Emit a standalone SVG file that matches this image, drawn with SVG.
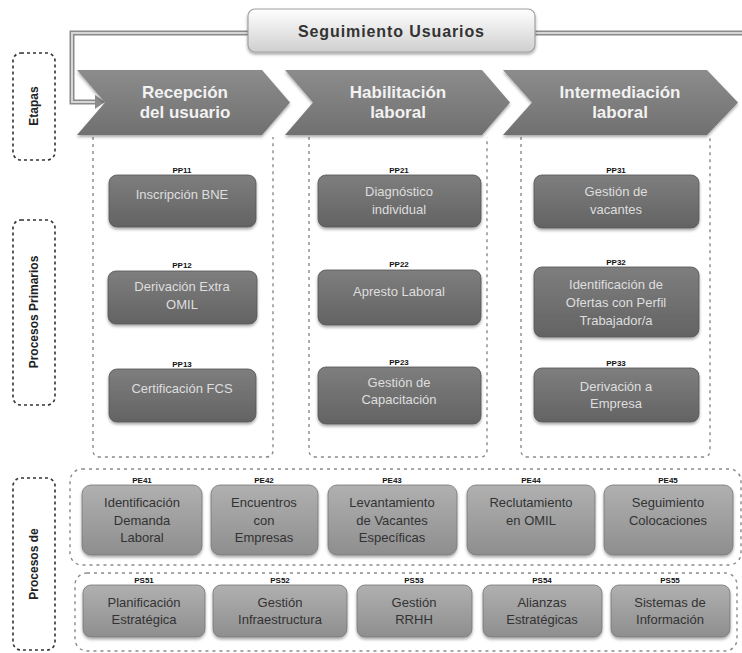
<svg xmlns="http://www.w3.org/2000/svg" width="742" height="653" viewBox="0 0 742 653">
<defs>
<linearGradient id="gChev" x1="0" y1="0" x2="0" y2="1"><stop offset="0" stop-color="#8c8c8c"/><stop offset="1" stop-color="#707070"/></linearGradient>
<linearGradient id="gTop" x1="0" y1="0" x2="0" y2="1"><stop offset="0" stop-color="#ffffff"/><stop offset="1" stop-color="#cfcfcf"/></linearGradient>
<linearGradient id="gPP" x1="0" y1="0" x2="0" y2="1"><stop offset="0" stop-color="#7e7e7e"/><stop offset="1" stop-color="#636363"/></linearGradient>
<linearGradient id="gPE" x1="0" y1="0" x2="0" y2="1"><stop offset="0" stop-color="#b0b0b0"/><stop offset="1" stop-color="#8e8e8e"/></linearGradient>
<filter id="sh" x="-10%" y="-10%" width="120%" height="130%"><feDropShadow dx="0" dy="2" stdDeviation="1.5" flood-color="#000" flood-opacity="0.35"/></filter>
</defs>
<style>
text{font-family:"Liberation Sans","DejaVu Sans",sans-serif;text-anchor:middle}
.lab{fill:none;stroke:#333;stroke-width:1.6;stroke-dasharray:3 3}
.ltx{font-size:12px;font-weight:bold;fill:#222}
.col{fill:none;stroke:#8a8a8a;stroke-width:1.4;stroke-dasharray:3 4}
.chev{fill:url(#gChev);filter:url(#sh)}
.ctx{font-size:17px;font-weight:bold;fill:#f2f2f2}
.pp{fill:url(#gPP);stroke:#555;stroke-width:0.8;filter:url(#sh)}
.ptx{font-size:13px;fill:#dedede}
.pe{fill:url(#gPE);stroke:#777;stroke-width:0.8;filter:url(#sh)}
.etx{font-size:13px;fill:#333}
.code{font-size:8px;font-weight:bold;fill:#111}
.con{fill:none;stroke:#8a8a8a;stroke-width:5}
.coni{fill:none;stroke:#d6d6d6;stroke-width:2}
</style>
<rect width="742" height="653" fill="#ffffff"/>

<g id="connectors">
<path class="con" d="M248,33 H72 V102 H96"/>
<path class="con" d="M535,33 H742"/>
<path class="coni" d="M248,33 H72 V102 H96"/>
<path class="coni" d="M535,33 H742"/>
<polygon points="95,95 105,102 95,109" fill="#8a8a8a"/>
</g>

<g id="seguimiento">
<rect x="248" y="9" width="287" height="43" rx="7" fill="url(#gTop)" stroke="#a0a0a0" stroke-width="1.2" filter="url(#sh)"/>
<text x="391" y="37" font-size="16" font-weight="bold" fill="#333" textLength="186" lengthAdjust="spacing">Seguimiento Usuarios</text>
</g>

<g id="label-etapas">
<rect class="lab" x="13" y="53" width="42" height="107" rx="8"/>
<text class="ltx" transform="translate(38,106) rotate(-90)">Etapas</text>
</g>
<g id="label-primarios">
<rect class="lab" x="13" y="220" width="42" height="185" rx="8"/>
<text class="ltx" transform="translate(38,312) rotate(-90)">Procesos Primarios</text>
</g>
<g id="label-de">
<rect class="lab" x="13" y="478" width="42" height="172" rx="8"/>
<text class="ltx" transform="translate(38,564) rotate(-90)">Procesos de</text>
</g>

<g id="columns">
<path class="col" d="M93,137 V450 Q93,457 100,457 H266 Q273,457 273,450 V137"/>
<path class="col" d="M309,137 V450 Q309,457 316,457 H480 Q487,457 487,450 V137"/>
<path class="col" d="M521,137 V450 Q521,457 528,457 H703 Q710,457 710,450 V137"/>
<rect class="col" x="70" y="469" width="671" height="96" rx="12"/>
<rect class="col" x="75" y="573" width="662" height="78" rx="12"/>
</g>

<g id="stage1">
<path class="chev" d="M77,70 L262,70 L290,102.5 L262,135 L77,135 L105,102.5 Z"/>
<text class="ctx" x="185" y="98">Recepción</text>
<text class="ctx" x="185" y="118">del usuario</text>
</g>
<g id="stage2">
<path class="chev" d="M285,70 L482,70 L510,102.5 L482,135 L285,135 L313,102.5 Z"/>
<text class="ctx" x="398" y="98">Habilitación</text>
<text class="ctx" x="398" y="118">laboral</text>
</g>
<g id="stage3">
<path class="chev" d="M503,70 L707,70 L738,102.5 L707,135 L503,135 L532,102.5 Z"/>
<text class="ctx" x="620" y="98">Intermediación</text>
<text class="ctx" x="620" y="118">laboral</text>
</g>

<g id="PP11"><rect class="pp" x="109" y="175" width="147" height="52" rx="8"/><text class="code" x="182" y="173">PP11</text><text class="ptx" x="182" y="199">Inscripción BNE</text></g>
<g id="PP12"><rect class="pp" x="108" y="271" width="149" height="53" rx="8"/><text class="code" x="182" y="268">PP12</text><text class="ptx" x="182" y="291">Derivación Extra</text><text class="ptx" x="182" y="309">OMIL</text></g>
<g id="PP13"><rect class="pp" x="109" y="369" width="147" height="53" rx="8"/><text class="code" x="182" y="367">PP13</text><text class="ptx" x="182" y="393">Certificación FCS</text></g>

<g id="PP21"><rect class="pp" x="318" y="175" width="163" height="52" rx="8"/><text class="code" x="399" y="173">PP21</text><text class="ptx" x="399" y="196">Diagnóstico</text><text class="ptx" x="399" y="214">individual</text></g>
<g id="PP22"><rect class="pp" x="318" y="270" width="163" height="55" rx="8"/><text class="code" x="399" y="267">PP22</text><text class="ptx" x="399" y="296">Apresto Laboral</text></g>
<g id="PP23"><rect class="pp" x="318" y="367" width="163" height="57" rx="8"/><text class="code" x="399" y="365">PP23</text><text class="ptx" x="399" y="387">Gestión de</text><text class="ptx" x="399" y="404">Capacitación</text></g>

<g id="PP31"><rect class="pp" x="534" y="175" width="165" height="53" rx="8"/><text class="code" x="616" y="173">PP31</text><text class="ptx" x="616" y="196">Gestión de</text><text class="ptx" x="616" y="214">vacantes</text></g>
<g id="PP32"><rect class="pp" x="534" y="267" width="165" height="70" rx="8"/><text class="code" x="616" y="265">PP32</text><text class="ptx" x="616" y="289">Identificación de</text><text class="ptx" x="616" y="307">Ofertas con Perfil</text><text class="ptx" x="616" y="325">Trabajador/a</text></g>
<g id="PP33"><rect class="pp" x="534" y="368" width="165" height="54" rx="8"/><text class="code" x="616" y="366">PP33</text><text class="ptx" x="616" y="391">Derivación a</text><text class="ptx" x="616" y="408">Empresa</text></g>

<g id="PE41"><rect class="pe" x="82" y="485" width="120" height="70" rx="9"/><text class="code" x="142" y="483">PE41</text><text class="etx" x="142" y="507">Identificación</text><text class="etx" x="142" y="525">Demanda</text><text class="etx" x="142" y="542">Laboral</text></g>
<g id="PE42"><rect class="pe" x="211" y="485" width="107" height="70" rx="9"/><text class="code" x="264" y="483">PE42</text><text class="etx" x="264" y="507">Encuentros</text><text class="etx" x="264" y="525">con</text><text class="etx" x="264" y="542">Empresas</text></g>
<g id="PE43"><rect class="pe" x="328" y="485" width="129" height="70" rx="9"/><text class="code" x="392" y="483">PE43</text><text class="etx" x="392" y="507">Levantamiento</text><text class="etx" x="392" y="525">de Vacantes</text><text class="etx" x="392" y="542">Específicas</text></g>
<g id="PE44"><rect class="pe" x="467" y="485" width="128" height="70" rx="9"/><text class="code" x="531" y="483">PE44</text><text class="etx" x="531" y="507">Reclutamiento</text><text class="etx" x="531" y="525">en OMIL</text></g>
<g id="PE45"><rect class="pe" x="604" y="485" width="129" height="70" rx="9"/><text class="code" x="668" y="483">PE45</text><text class="etx" x="668" y="507">Seguimiento</text><text class="etx" x="668" y="525">Colocaciones</text></g>

<g id="PS51"><rect class="pe" x="83" y="585" width="122" height="52" rx="8"/><text class="code" x="144" y="583">PS51</text><text class="etx" x="144" y="607">Planificación</text><text class="etx" x="144" y="624">Estratégica</text></g>
<g id="PS52"><rect class="pe" x="213" y="585" width="134" height="52" rx="8"/><text class="code" x="280" y="583">PS52</text><text class="etx" x="280" y="607">Gestión</text><text class="etx" x="280" y="624">Infraestructura</text></g>
<g id="PS53"><rect class="pe" x="357" y="585" width="115" height="52" rx="8"/><text class="code" x="414" y="583">PS53</text><text class="etx" x="414" y="607">Gestión</text><text class="etx" x="414" y="624">RRHH</text></g>
<g id="PS54"><rect class="pe" x="483" y="585" width="119" height="52" rx="8"/><text class="code" x="542" y="583">PS54</text><text class="etx" x="542" y="607">Alianzas</text><text class="etx" x="542" y="624">Estratégicas</text></g>
<g id="PS55"><rect class="pe" x="611" y="585" width="119" height="52" rx="8"/><text class="code" x="670" y="583">PS55</text><text class="etx" x="670" y="607">Sistemas de</text><text class="etx" x="670" y="624">Información</text></g>
</svg>
